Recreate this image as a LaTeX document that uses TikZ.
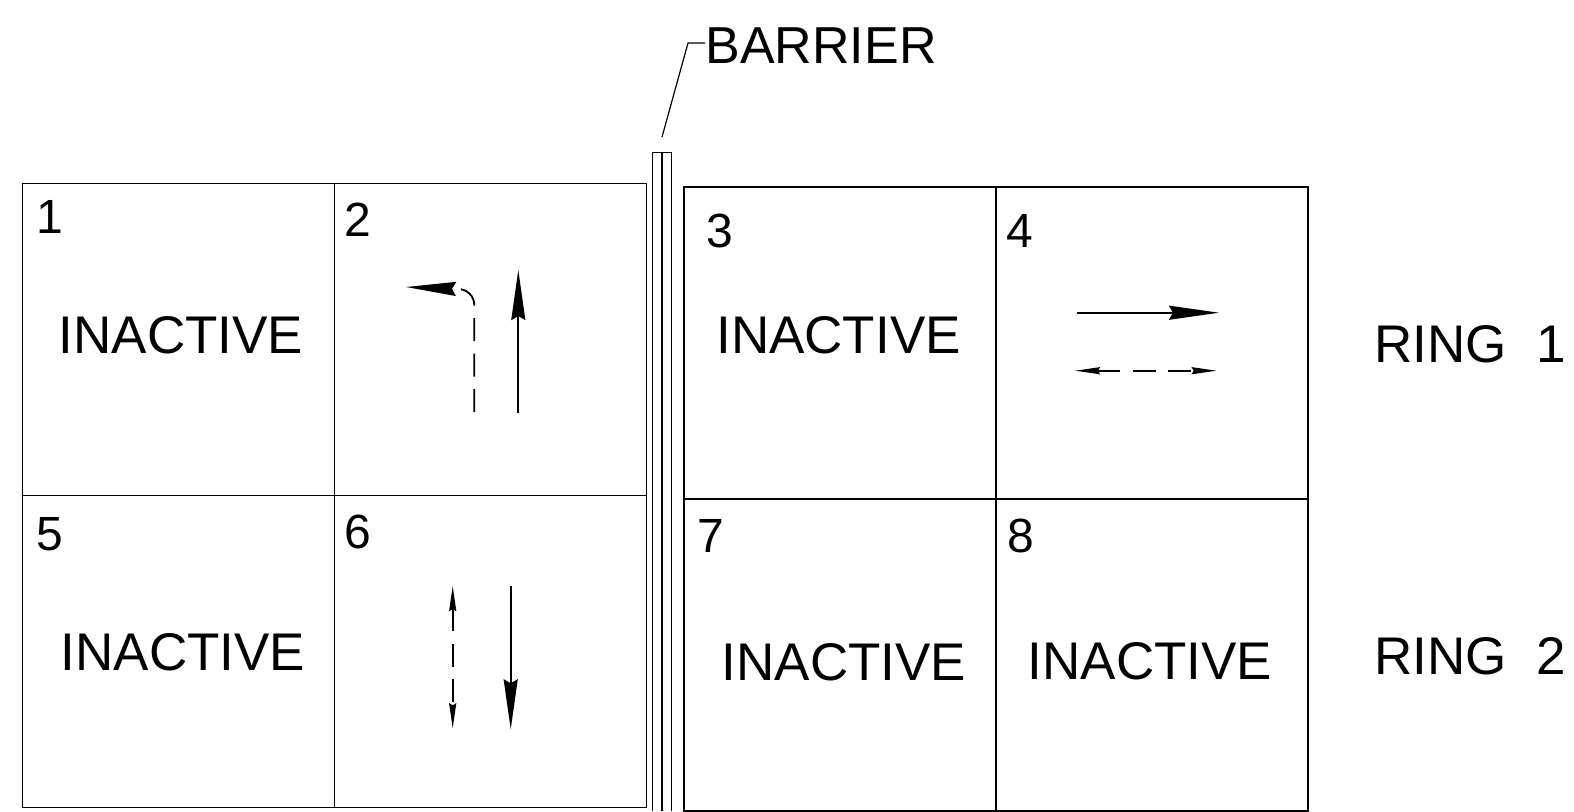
\documentclass[tikz,border=0pt]{standalone}
\usepackage{fontspec}
\setmainfont{Liberation Sans}
\usetikzlibrary{positioning, arrows.meta}
\tikzset{cell/.style={draw, line width=0.6pt, minimum size=156pt, inner sep=0pt, outer sep=0pt}}
\tikzset{num/.style={anchor=base west, inner sep=0pt, font=\fontsize{24pt}{24pt}\selectfont}}
\tikzset{word/.style={anchor=base, inner sep=0pt, font=\fontsize{26.5pt}{26.5pt}\selectfont}}
\tikzset{bighead/.style={-{Stealth[length=25pt, width=7pt, inset=2pt]}}}
\tikzset{move/.style={line width=1pt, bighead}}
\tikzset{permit/.style={line width=0.9pt, dash pattern=on 11.5pt off 6.25pt}}
\tikzset{smallheads/.style={{Stealth[length=12.5pt, width=3.5pt, inset=1pt]}-{Stealth[length=12.5pt, width=3.5pt, inset=1pt]}}}

\begin{document}
\begin{tikzpicture}[x=0.5pt, y=-0.5pt]
  \useasboundingbox (0,0) rectangle (1574,811);

  % left block
  \node[cell] (c1) at (178.3,339.3) {};
  \node[cell, right=0pt of c1] (c2) {};
  \node[cell, below=0pt of c1] (c5) {};
  \node[cell, right=0pt of c5] (c6) {};

  % right block
  \node[cell] (c3) at (840,343) {};
  \node[cell, right=0pt of c3] (c4) {};
  \node[cell, below=0pt of c3] (c7) {};
  \node[cell, right=0pt of c7] (c8) {};

  % phase numbers
  \node[num] (n1) at (36,233) {1};
  \node[num] (n2) at (344.5,236) {2};
  \node[num] (n3) at (706,247) {3};
  \node[num] (n4) at (1006,247) {4};
  \node[num] (n5) at (36,550) {5};
  \node[num] (n6) at (344,548) {6};
  \node[num] (n7) at (697.5,552) {7};
  \node[num] (n8) at (1007,552) {8};

  \node[word] (i1) at (181,353) {INACTIVE};
  \node[word] (i3) at (838.5,353) {INACTIVE};
  \node[word] (i5) at (183,670) {INACTIVE};
  \node[word] (i7) at (844,680) {INACTIVE};
  \node[word] (i8) at (1150,679) {INACTIVE};

  \node[word, anchor=base west] (ring1) at (1374,362) {RING\ \ 1};
  \node[word, anchor=base west] (ring2) at (1374,674) {RING\ \ 2};

  % barrier
  \draw[line width=0.6pt] (652.7,811) |- (671.7,152.7) -- (671.7,811);
  \draw[line width=1.1pt] (662,152.7) -- (662,811);
  \node[anchor=base west, inner sep=0pt, font=\fontsize{26pt}{26pt}\selectfont] (barlbl) at (705,63) {BARRIER};
  \coordinate (bartip) at (662,137);
  \draw[line width=0.6pt] (bartip) -- (688,43) -- (barlbl.west |- 0,43);

  % movements, phase 2
  \draw[move] (518.3,413) -- (518.3,270);
  \draw[permit, bighead] (474.3,412) -- (474.3,305) .. controls (474.3,296) and (467,289) .. (458,289) -- (406,287);

  % movements, phase 6
  \draw[permit, smallheads] (452.7,586) -- (452.7,728.3);
  \draw[move] (510.7,586) -- (510.7,729.3);

  % movements, phase 4
  \draw[move] (1077,312.7) -- (1219,312.7);
  \draw[permit, smallheads] (1075,370.7) -- (1216.7,370.7);
\end{tikzpicture}
\end{document}
